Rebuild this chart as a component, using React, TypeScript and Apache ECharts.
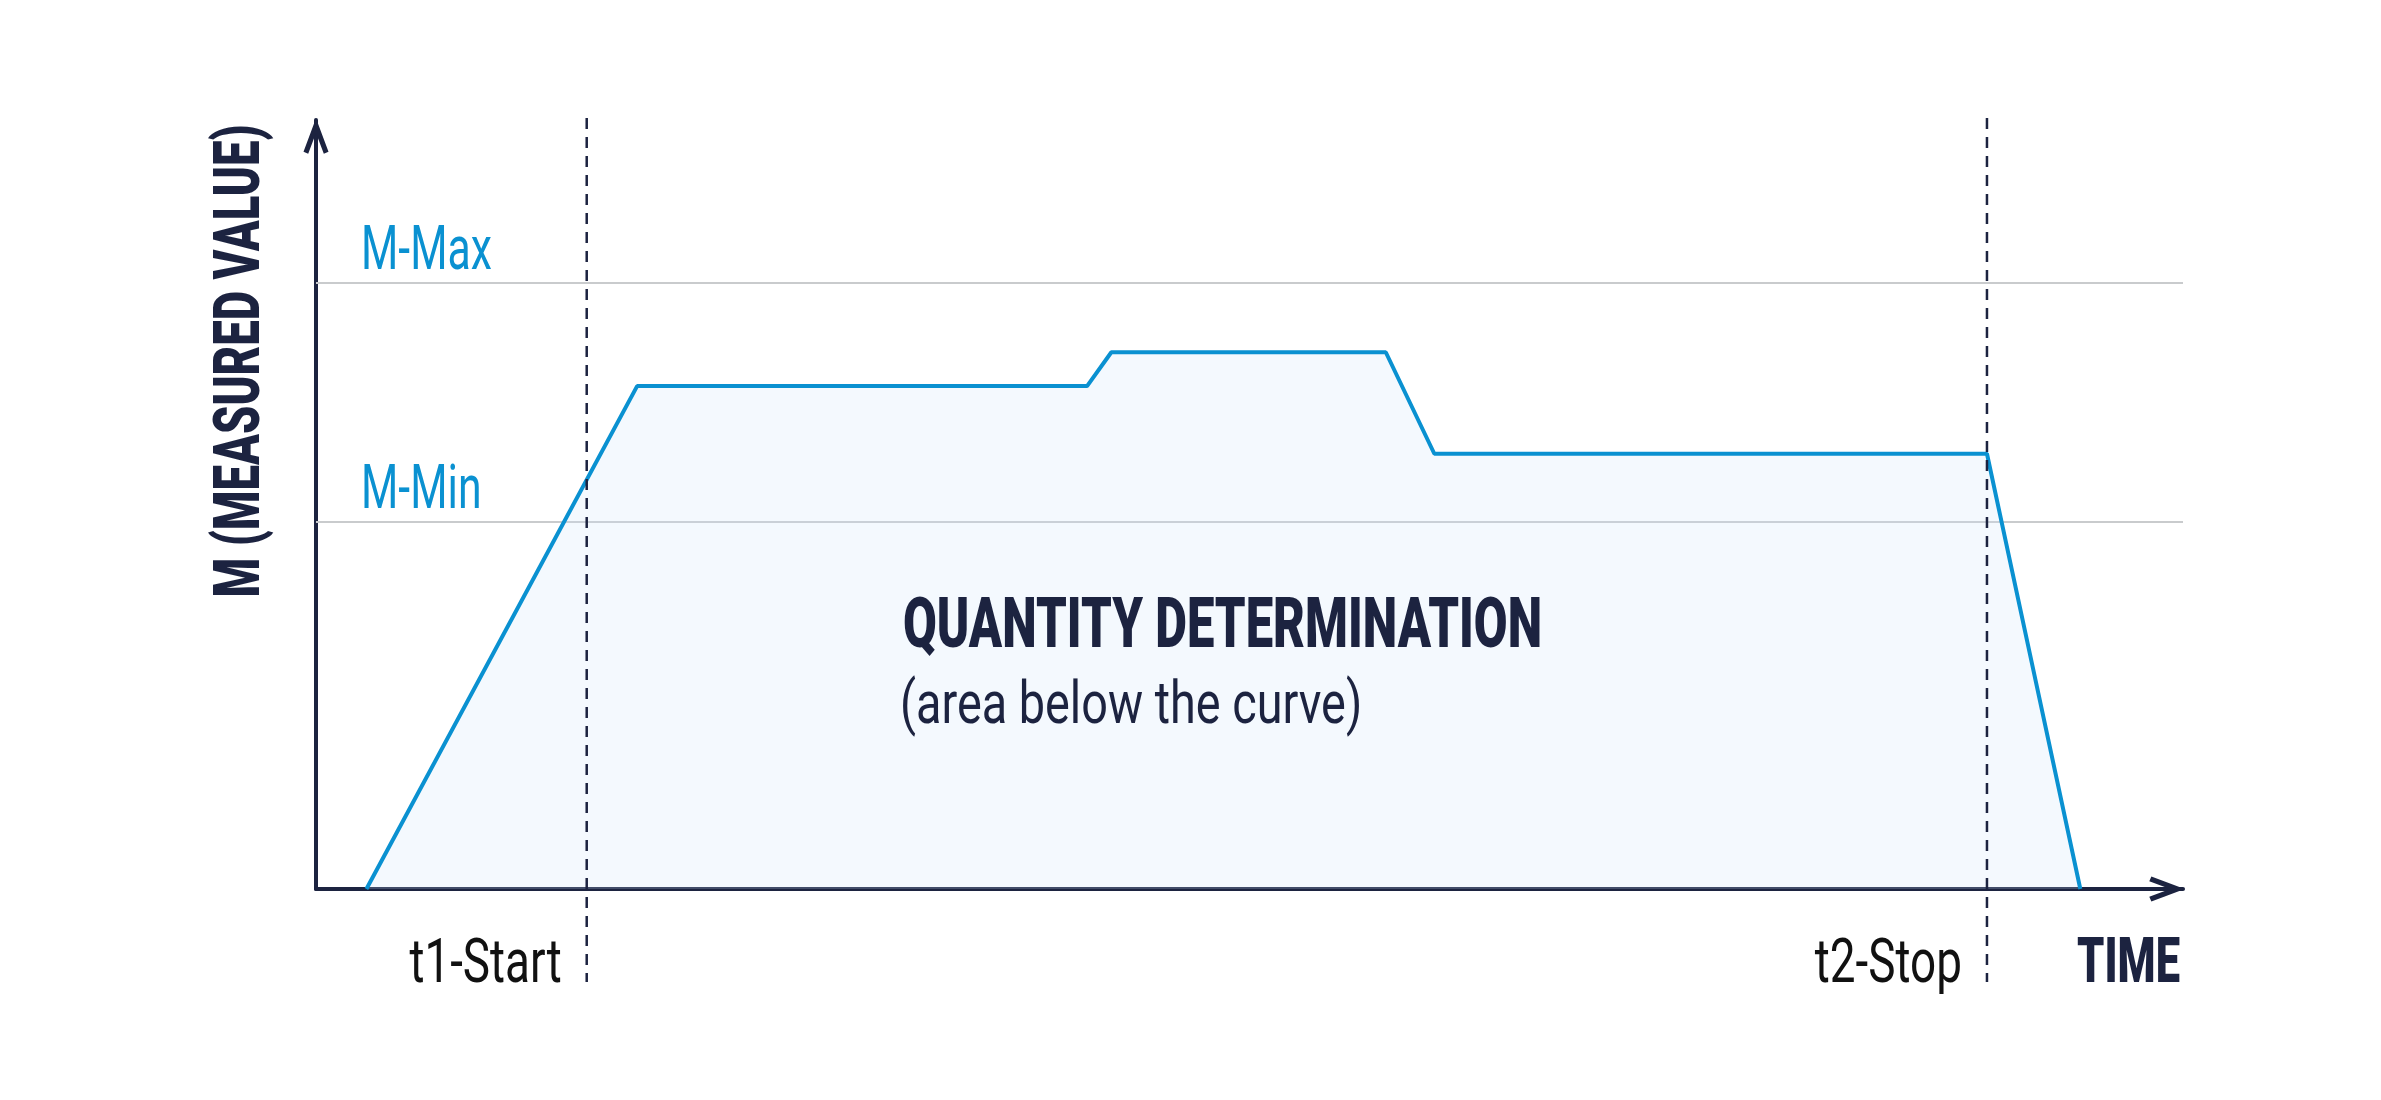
import * as echarts from 'echarts'
import { useEffect, useRef } from 'react'

// curve: time (0-100) against measured value (0-100)
const timeValues = [2.7, 17.2, 41.3, 42.6, 57.3, 59.9, 89.5, 94.5]
const measuredValues = [0, 65.4, 65.4, 69.8, 69.8, 56.6, 56.6, 0]
// horizontal limits
const limitNames = ['M-Max', 'M-Min']
const limitValues = [78.8, 47.7]
// start / stop markers
const markerNames = ['t1-Start', 't2-Stop']
const markerTimes = [14.5, 89.5]

const NAVY = '#1c2340'
const BLUE = '#0a91d1'
const GRID_GREY = '#c9cbcd'
const FONT = 'Roboto, "Noto Sans", sans-serif'
// open chevron arrow, pointing up (echarts rotates it for the x axis)
const arrowPath = 'path://M12,0 L24,32 L19.5,34 L12,14 L4.5,34 L0,32 Z'

const txt = (
  text: string,
  x: number,
  y: number,
  size: number,
  weight: string | number,
  color: string,
  align: string,
  scaleX: number,
  rotation = 0
) => ({
  type: 'text',
  x,
  y,
  z: 20,
  scaleX,
  rotation,
  style: {
    text,
    fill: color,
    font: `${weight} ${size}px ${FONT}`,
    align,
    verticalAlign: 'middle',
  },
})

export default function App() {
  const chartRef = useRef<HTMLDivElement>(null)

  useEffect(() => {
    if (!chartRef.current) return
    const chart = echarts.init(chartRef.current, null, { renderer: 'svg' })

    const axisLine = {
      show: true,
      onZero: true,
      symbol: ['none', arrowPath],
      symbolSize: [25, 36],
      symbolOffset: [0, -16],
      lineStyle: { color: NAVY, width: 4 },
    }
    const axisCommon = {
      type: 'value',
      min: 0,
      max: 100,
      axisLine,
      axisTick: { show: false },
      axisLabel: { show: false },
      splitLine: { show: false },
    }

    chart.setOption({
      animation: false,
      grid: { left: 316, top: 120, right: 198, bottom: 211 },
      xAxis: axisCommon,
      yAxis: axisCommon,
      series: [
        {
          type: 'line',
          data: timeValues.map((t, i) => [t, measuredValues[i]]),
          symbol: 'none',
          z: 2,
          lineStyle: { color: BLUE, width: 4 },
          areaStyle: { color: '#cfe2fa', opacity: 0.22 },
          markLine: {
            silent: true,
            z: 1,
            symbol: ['none', 'none'],
            label: { show: false },
            lineStyle: { color: GRID_GREY, type: 'solid', width: 2 },
            data: limitValues.map((v) => ({ yAxis: v })),
          },
        },
      ],
    })

    const toPx = (t: number, m: number) => chart.convertToPixel({ gridIndex: 0 }, [t, m]) as number[]
    const graphics: any[] = []

    markerTimes.forEach((t, i) => {
      const [x] = toPx(t, 0)
      graphics.push({
        type: 'line',
        z: 10,
        shape: { x1: x, y1: 118, x2: x, y2: 982 },
        style: { stroke: NAVY, lineWidth: 2.5, lineDash: [11, 8] },
      })
      graphics.push(txt(markerNames[i], x - 25, 960, 62, 400, '#111111', 'right', 0.74))
    })

    limitValues.forEach((v, i) => {
      const [, y] = toPx(0, v)
      graphics.push(txt(limitNames[i], 361, y - 35, 62, 400, BLUE, 'left', 0.69))
    })

    graphics.push(txt('M (MEASURED VALUE)', 238, 361, 64, 900, NAVY, 'center', 0.71, Math.PI / 2))
    graphics.push(txt('TIME', 2180, 960, 63, 900, NAVY, 'right', 0.69))
    graphics.push(txt('QUANTITY DETERMINATION', 903, 623, 70, 900, NAVY, 'left', 0.7))
    graphics.push(txt('(area below the curve)', 900, 702, 60, 400, NAVY, 'left', 0.78))

    chart.setOption({ graphic: graphics })

    return () => {
      chart.dispose()
    }
  }, [])

  return (
    <div
      ref={chartRef}
      style={{ position: 'fixed', left: 0, top: 0, width: 2381, height: 1100, background: '#ffffff' }}
    />
  )
}
